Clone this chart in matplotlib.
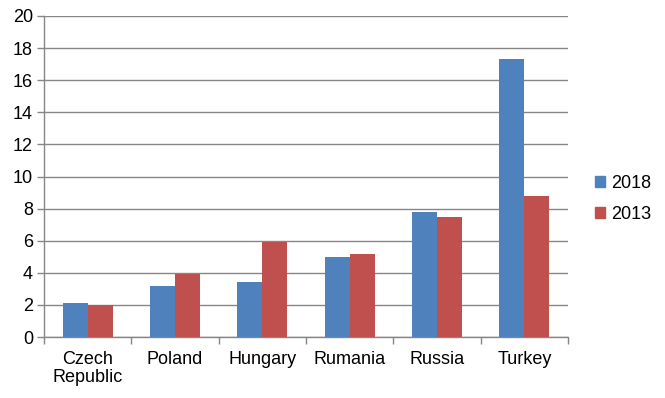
import numpy as np
import matplotlib
matplotlib.use("Agg")
import matplotlib.pyplot as plt
from matplotlib.patches import Patch

categories = ["Czech\nRepublic", "Poland", "Hungary", "Rumania", "Russia", "Turkey"]
values_2018 = [2.1, 3.2, 3.4, 5.0, 7.8, 17.3]
values_2013 = [2.0, 3.9, 5.9, 5.2, 7.5, 8.8]
yticks = [0, 2, 4, 6, 8, 10, 12, 14, 16, 18, 20]

plt.rcParams['font.family'] = ['Liberation Sans', 'DejaVu Sans']

blue = "#4F81BD"
red = "#C0504D"
grey = "#868686"
fs = 13

fig = plt.figure(figsize=(6.65, 3.98), dpi=100)
ax = fig.add_axes([44/665, 1-337/398, (568-44)/665, (337-16)/398])

x = np.arange(len(categories))
w = 0.287
ax.bar(x - w/2, values_2018, w, color=blue, zorder=3)
ax.bar(x + w/2, values_2013, w, color=red, zorder=3)

ax.set_xlim(-0.5, len(categories) - 0.5)
ax.set_ylim(0, 20)
ax.set_yticks(yticks)
ax.set_yticklabels([str(t) for t in yticks], fontsize=fs)
ax.yaxis.grid(True, color=grey, linewidth=1, zorder=0)

ax.set_xticks(x)
ax.set_xticklabels(categories, fontsize=fs, linespacing=1.1)
ax.set_xticks(np.arange(-0.5, len(categories)), minor=True)
ax.tick_params(axis='x', which='major', length=0, pad=10)
ax.tick_params(axis='x', which='minor', length=5, color=grey, width=1)
ax.tick_params(axis='y', length=5, color=grey, width=1, pad=3)

for s in ['top', 'right']:
    ax.spines[s].set_visible(False)
for s in ['left', 'bottom']:
    ax.spines[s].set_color(grey)
    ax.spines[s].set_linewidth(1)

handles = [Patch(color=blue, label="2018"), Patch(color=red, label="2013")]
fig.legend(handles=handles, loc='center left', bbox_to_anchor=(579/665, 1-199/398),
           frameon=False, fontsize=fs, handlelength=0.55, handleheight=0.55,
           handletextpad=0.35, labelspacing=0.8)

fig.savefig("out.png", dpi=100)
